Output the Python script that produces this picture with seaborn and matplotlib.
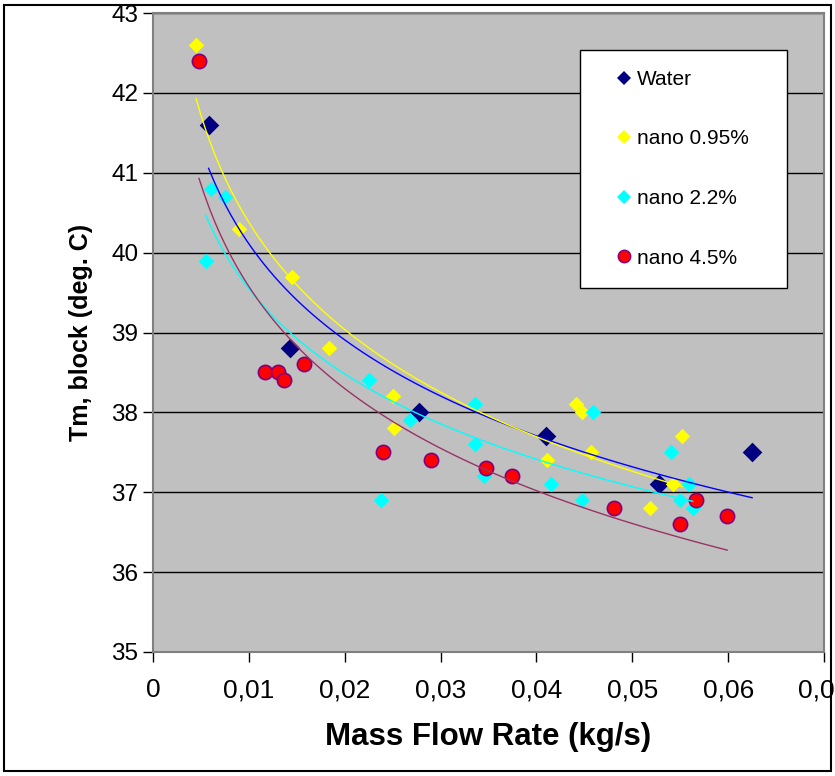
import numpy as np
import pandas as pd
import matplotlib
matplotlib.use("Agg")
import matplotlib.pyplot as plt
from matplotlib.patches import Rectangle
from matplotlib.lines import Line2D
import seaborn as sns

# -----------------------------
# Data
# -----------------------------
water_x = [0.0058, 0.0143, 0.0278, 0.0410, 0.0528, 0.0625]
water_y = [41.6, 38.8, 38.0, 37.7, 37.1, 37.5]

nano095_x = [0.0045, 0.0090, 0.0145, 0.0184, 0.0250, 0.0251, 0.0411,
             0.0441, 0.0448, 0.0457, 0.0519, 0.0542, 0.0552]
nano095_y = [42.6, 40.3, 39.7, 38.8, 38.2, 37.8, 37.4,
             38.1, 38.0, 37.5, 36.8, 37.1, 37.7]

nano22_x = [0.0055, 0.0060, 0.0075, 0.0225, 0.0238, 0.0268, 0.0336, 0.0336,
            0.0345, 0.0415, 0.0448, 0.0459, 0.0540, 0.0550, 0.0559, 0.0563]
nano22_y = [39.9, 40.8, 40.7, 38.4, 36.9, 37.9, 38.1, 37.6,
            37.2, 37.1, 36.9, 38.0, 37.5, 36.9, 37.1, 36.8]

nano45_x = [0.0048, 0.0117, 0.0130, 0.0137, 0.0158, 0.0240, 0.0290,
            0.0347, 0.0375, 0.0481, 0.0550, 0.0566, 0.0599]
nano45_y = [42.4, 38.5, 38.5, 38.4, 38.6, 37.5, 37.4,
            37.3, 37.2, 36.8, 36.6, 36.9, 36.7]

x_ticks = [0, 0.01, 0.02, 0.03, 0.04, 0.05, 0.06, 0.07]
x_tick_labels = ["0", "0,01", "0,02", "0,03", "0,04", "0,05", "0,06", "0,07"]
y_ticks = [35, 36, 37, 38, 39, 40, 41, 42, 43]

# series: label, x, y, marker, face, edge, size, trend colour
series = [
    ("Water", water_x, water_y, "D", "#000080", "#000080", 100, "#0000FF"),
    ("nano 0.95%", nano095_x, nano095_y, "D", "#FFFF00", "#FFFF00", 62, "#FFFF00"),
    ("nano 2.2%", nano22_x, nano22_y, "D", "#00FFFF", "#00FFFF", 62, "#00FFFF"),
    ("nano 4.5%", nano45_x, nano45_y, "o", "#FF0000", "#800080", 105, "#993366"),
]

plt.rcParams["font.family"] = ["Liberation Sans", "DejaVu Sans"]

fig = plt.figure(figsize=(8.35, 7.76), dpi=100)
ax = fig.add_axes([153 / 835, 1 - 652 / 776, (824 - 153) / 835, (652 - 13) / 776])
ax.set_facecolor("#C0C0C0")

# scatter points
for label, xs, ys, mk, fc, ec, s, tc in series:
    df = pd.DataFrame({"x": xs, "y": ys})
    sns.scatterplot(data=df, x="x", y="y", marker=mk, color=fc, edgecolor=ec,
                    linewidth=1.2 if mk == "o" else 0, s=s, ax=ax, zorder=2,
                    legend=False)

# logarithmic trendlines, drawn on top like the original
for label, xs, ys, mk, fc, ec, s, tc in series:
    df = pd.DataFrame({"x": xs, "y": ys})
    sns.regplot(data=df, x="x", y="y", logx=True, scatter=False, ci=None,
                truncate=True, ax=ax, line_kws={"color": tc, "lw": 1, "zorder": 3})

ax.set_xlim(0, 0.07)
ax.set_ylim(35, 43)
ax.set_xticks(x_ticks)
ax.set_xticklabels(x_tick_labels, fontsize=19)
ax.set_yticks(y_ticks)
ax.tick_params(axis="y", labelsize=17.5, direction="out", length=7, width=1, color="black")
ax.tick_params(axis="x", direction="out", length=7, width=1, color="black", pad=12)
ax.grid(axis="y", color="black", lw=1)
ax.grid(axis="x", visible=False)
ax.set_axisbelow(True)

for sp in ax.spines.values():
    sp.set_color("#808080")
    sp.set_linewidth(1.5)

ax.set_xlabel("Mass Flow Rate (kg/s)", fontsize=22.5, fontweight="bold", labelpad=14)
ax.set_ylabel("Tm, block (deg. C)", fontsize=18, fontweight="bold", labelpad=13)

handles = [
    Line2D([], [], ls="none", marker=mk, markersize=(9 if mk == "o" else 7),
           markerfacecolor=fc, markeredgecolor=ec, markeredgewidth=(1 if mk == "o" else 0))
    for label, xs, ys, mk, fc, ec, s, tc in series
]
labels = [row[0] for row in series]
leg = ax.legend(handles, labels, loc="upper left",
                bbox_to_anchor=(0.636, 0.549, 0.309, 0.393), mode="expand",
                fontsize=15, frameon=True, fancybox=False, shadow=False,
                borderpad=0.95, labelspacing=1.95, handlelength=2.3,
                handletextpad=-0.5, borderaxespad=0)
leg.get_frame().set_facecolor("white")
leg.get_frame().set_edgecolor("black")
leg.get_frame().set_linewidth(1)
leg.get_frame().set_alpha(1)

fig.patches.append(Rectangle((4 / 835, 5 / 776), 827 / 835, 766 / 776,
                             transform=fig.transFigure, fill=False,
                             ec="black", lw=1.5))

fig.savefig("out.png", dpi=100)
